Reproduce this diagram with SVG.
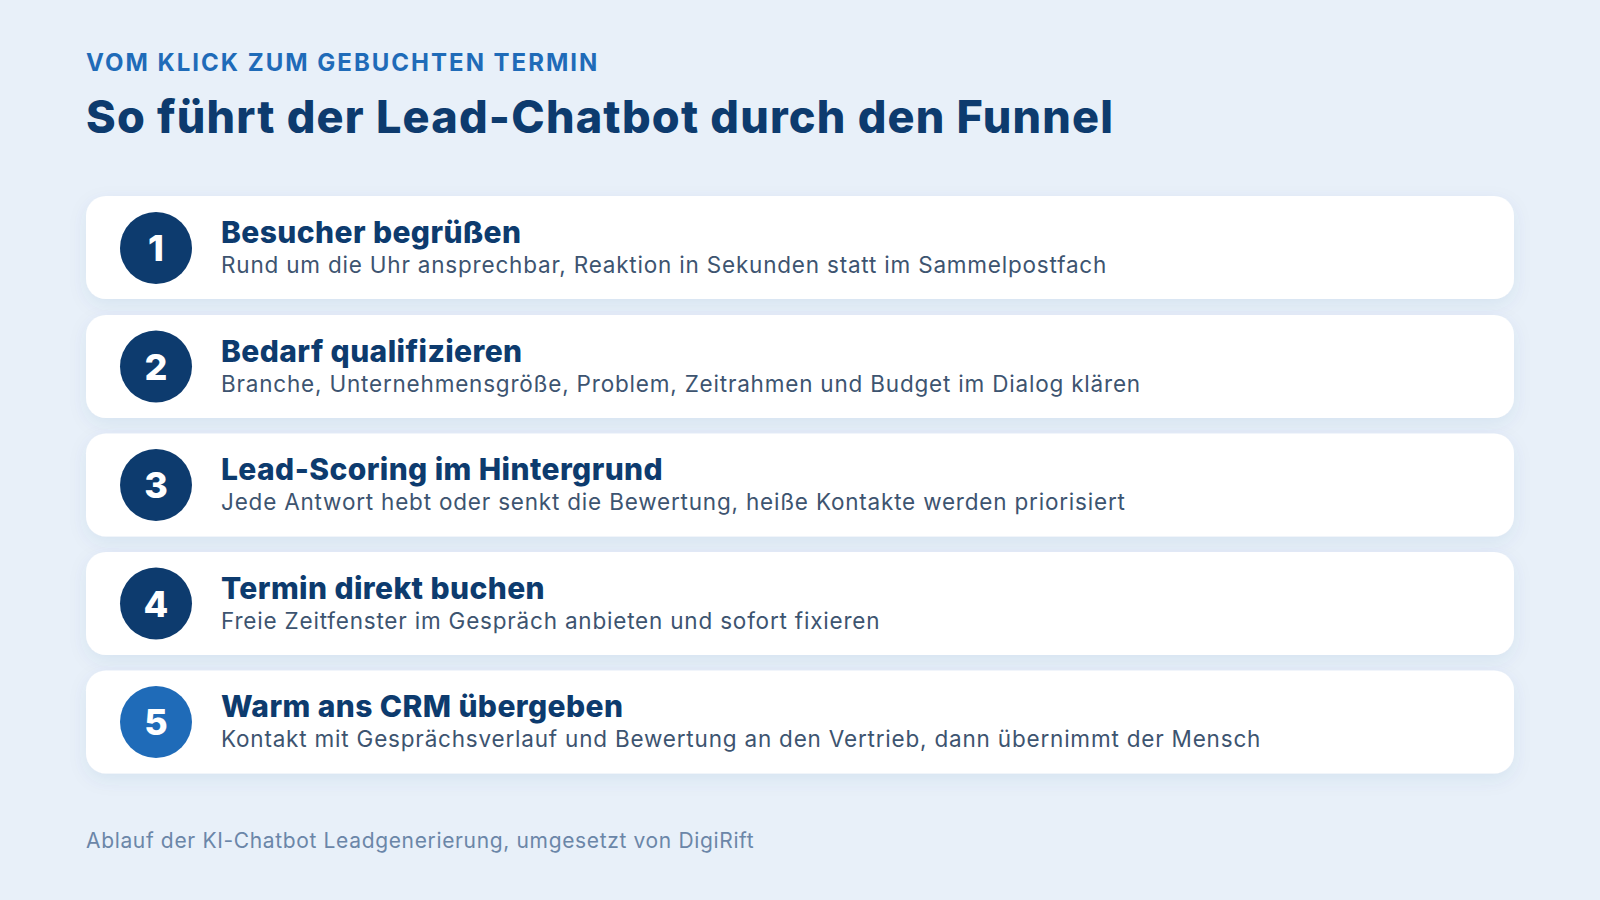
<svg xmlns="http://www.w3.org/2000/svg" width="1600" height="900" viewBox="0 0 1600 900">
<defs>
<filter id="sh" x="-5%" y="-30%" width="110%" height="170%">
<feDropShadow dx="0" dy="6" stdDeviation="9" flood-color="#1a4f8a" flood-opacity="0.08"/>
</filter>
<style>
.card{fill:#ffffff;filter:url(#sh)}
.num{font-family:Inter,"Noto Sans",sans-serif;font-weight:800;font-size:36px;fill:#ffffff;text-anchor:middle}
.t{font-family:Inter,"Noto Sans",sans-serif;font-weight:800;font-size:30px;fill:#0d3b6e;letter-spacing:0.4px}
.s{font-family:Inter,"Noto Sans",sans-serif;font-weight:400;font-size:22.5px;fill:#3d5470;letter-spacing:0.8px}
</style>
</defs>
<rect width="1600" height="900" fill="#e8f0f9"/>
<text x="86" y="71" font-family="Inter,'Noto Sans',sans-serif" font-weight="700" font-size="24" letter-spacing="2" fill="#1f6bb8">VOM KLICK ZUM GEBUCHTEN TERMIN</text>
<text x="86" y="133" font-family="Inter,'Noto Sans',sans-serif" font-weight="800" font-size="45" letter-spacing="1.2" fill="#0d3b6e">So führt der Lead-Chatbot durch den Funnel</text>
<g id="step1">
<rect class="card" x="86" y="196" width="1428" height="103" rx="20"/>
<circle cx="156" cy="248" r="36" fill="#0d3b6e"/>
<text class="num" x="156" y="261">1</text>
<text class="t" x="221" y="243">Besucher begrüßen</text>
<text class="s" x="221" y="273">Rund um die Uhr ansprechbar, Reaktion in Sekunden statt im Sammelpostfach</text>
</g>
<g id="step2">
<rect class="card" x="86" y="315" width="1428" height="103" rx="20"/>
<circle cx="156" cy="366.5" r="36" fill="#0d3b6e"/>
<text class="num" x="156" y="379.5">2</text>
<text class="t" x="221" y="361.5">Bedarf qualifizieren</text>
<text class="s" x="221" y="391.5">Branche, Unternehmensgröße, Problem, Zeitrahmen und Budget im Dialog klären</text>
</g>
<g id="step3">
<rect class="card" x="86" y="433.5" width="1428" height="103" rx="20"/>
<circle cx="156" cy="485" r="36" fill="#0d3b6e"/>
<text class="num" x="156" y="498">3</text>
<text class="t" x="221" y="480">Lead-Scoring im Hintergrund</text>
<text class="s" x="221" y="510">Jede Antwort hebt oder senkt die Bewertung, heiße Kontakte werden priorisiert</text>
</g>
<g id="step4">
<rect class="card" x="86" y="552" width="1428" height="103" rx="20"/>
<circle cx="156" cy="603.5" r="36" fill="#0d3b6e"/>
<text class="num" x="156" y="616.5">4</text>
<text class="t" x="221" y="598.5">Termin direkt buchen</text>
<text class="s" x="221" y="628.5">Freie Zeitfenster im Gespräch anbieten und sofort fixieren</text>
</g>
<g id="step5">
<rect class="card" x="86" y="670.5" width="1428" height="103" rx="20"/>
<circle cx="156" cy="722" r="36" fill="#1f6bb8"/>
<text class="num" x="156" y="735">5</text>
<text class="t" x="221" y="717">Warm ans CRM übergeben</text>
<text class="s" x="221" y="747">Kontakt mit Gesprächsverlauf und Bewertung an den Vertrieb, dann übernimmt der Mensch</text>
</g>
<g id="connectors"></g>
<text x="86" y="848" font-family="Inter,'Noto Sans',sans-serif" font-weight="400" font-size="21" letter-spacing="0.65" fill="#6b86a8">Ablauf der KI-Chatbot Leadgenerierung, umgesetzt von DigiRift</text>
</svg>
